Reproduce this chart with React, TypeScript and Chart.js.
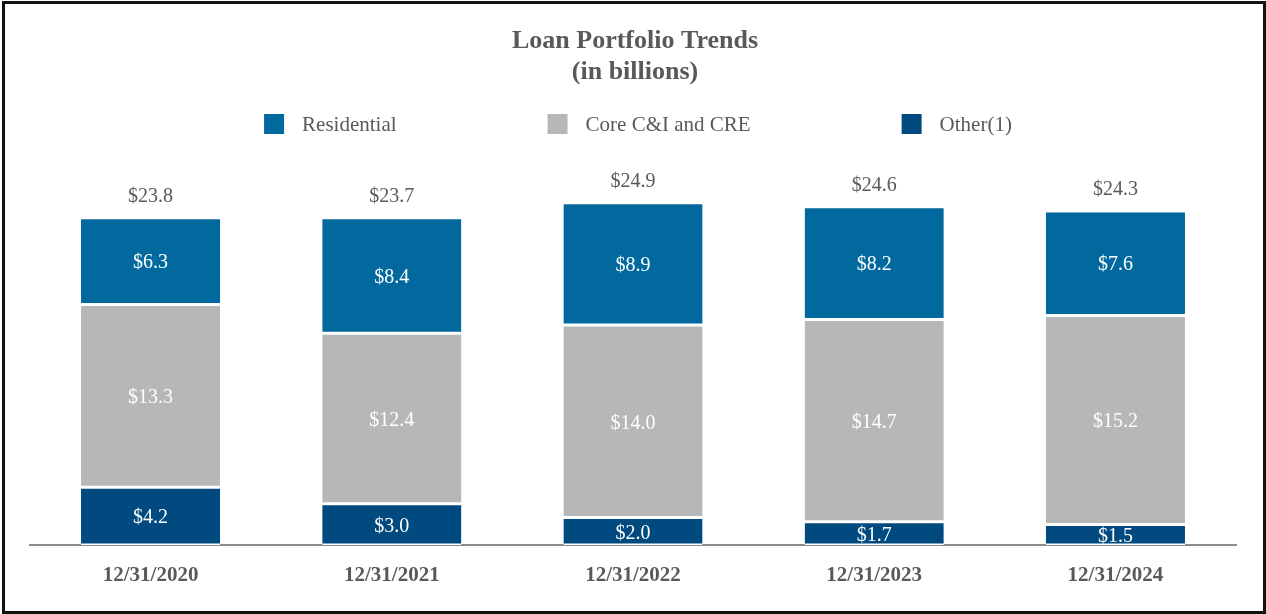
import { useEffect, useRef } from "react";
import { Chart, registerables } from "chart.js";

Chart.register(...registerables);

// Year-end balances, in billions of dollars
const categories = ["12/31/2020", "12/31/2021", "12/31/2022", "12/31/2023", "12/31/2024"];
const residential = [6.3, 8.4, 8.9, 8.2, 7.6];
const coreCiCre = [13.3, 12.4, 14.0, 14.7, 15.2];
const other = [4.2, 3.0, 2.0, 1.7, 1.5];
const totals = [23.8, 23.7, 24.9, 24.6, 24.3];

const titleLines = ["Loan Portfolio Trends", "(in billions)"];
const seriesNames = ["Residential", "Core C&I and CRE", "Other(1)"];
const seriesColors = ["#02699F", "#B7B7B7", "#004A80"];

const FONT = '"Liberation Serif", "Times New Roman", serif';
const TEXT_GREY = "#595959";

const money = (v: number) => `$${v.toFixed(1)}`;

// Segment values inside each bar, totals above each stack
const valueLabels = {
  id: "valueLabels",
  afterDatasetsDraw(chart: any) {
    const { ctx, chartArea } = chart;
    ctx.save();
    ctx.beginPath();
    ctx.rect(chartArea.left, chartArea.top, chartArea.right - chartArea.left, chartArea.bottom - chartArea.top);
    ctx.clip();
    ctx.textAlign = "center";
    ctx.textBaseline = "middle";
    ctx.font = `20px ${FONT}`;
    ctx.fillStyle = "#FFFFFF";
    chart.data.datasets.forEach((ds: any, di: number) => {
      const meta = chart.getDatasetMeta(di);
      meta.data.forEach((el: any, i: number) => {
        const { x, y, base } = el.getProps(["x", "y", "base"], true);
        ctx.fillText(money(ds.data[i]), x, (y + base) / 2 + 2);
      });
    });
    const topMeta = chart.getDatasetMeta(chart.data.datasets.length - 1);
    ctx.fillStyle = TEXT_GREY;
    topMeta.data.forEach((el: any, i: number) => {
      const { x, y } = el.getProps(["x", "y"], true);
      ctx.fillText(money(totals[i]), x, y - 21);
    });
    ctx.restore();
  },
};

// Title block and a single-row legend across the top
const header = {
  id: "header",
  afterDraw(chart: any) {
    const { ctx, width } = chart;
    const titleX = width / 2 + 2;
    ctx.save();
    ctx.textAlign = "center";
    ctx.textBaseline = "middle";
    ctx.fillStyle = TEXT_GREY;
    ctx.font = `bold 26px ${FONT}`;
    ctx.fillText(titleLines[0], titleX, 41);
    ctx.fillText(titleLines[1], titleX, 72);

    const box = 20;
    const gap = 18;
    const spacing = 151;
    ctx.font = `21px ${FONT}`;
    const items = [...chart.data.datasets].reverse().map((ds: any) => ({
      label: ds.label as string,
      color: ds.backgroundColor as string,
      w: box + gap + ctx.measureText(ds.label).width,
    }));
    const total = items.reduce((s, it) => s + it.w, 0) + spacing * (items.length - 1);
    let x = width / 2 + 5 - total / 2;
    const yMid = 124;
    ctx.textAlign = "left";
    items.forEach((it) => {
      ctx.fillStyle = it.color;
      ctx.fillRect(x, yMid - box / 2, box, box);
      ctx.fillStyle = TEXT_GREY;
      ctx.fillText(it.label, x + box + gap, yMid + 1);
      x += it.w + spacing;
    });
    ctx.restore();
  },
};

export default function App() {
  const canvasRef = useRef<HTMLCanvasElement | null>(null);

  useEffect(() => {
    if (!canvasRef.current) return;
    const segBorder = { top: 1.5, bottom: 1.5, left: 0, right: 0 };
    const chart = new Chart(canvasRef.current, {
      type: "bar",
      data: {
        labels: categories,
        datasets: [
          { label: seriesNames[2], data: other, backgroundColor: seriesColors[2] },
          { label: seriesNames[1], data: coreCiCre, backgroundColor: seriesColors[1] },
          { label: seriesNames[0], data: residential, backgroundColor: seriesColors[0] },
        ].map((d) => ({
          ...d,
          borderColor: "#FFFFFF",
          borderWidth: segBorder,
          borderSkipped: false,
          barPercentage: 0.577,
          categoryPercentage: 1,
        })),
      },
      options: {
        animation: false,
        responsive: true,
        maintainAspectRatio: false,
        layout: { padding: { top: 160, left: 30, right: 30, bottom: 0 } },
        plugins: {
          legend: { display: false },
          title: { display: false },
          tooltip: { enabled: false },
        },
        scales: {
          x: {
            stacked: true,
            z: 1,
            grid: { display: false, drawTicks: false },
            border: { display: true, color: "#8C8C8C", width: 2 },
            ticks: {
              color: TEXT_GREY,
              padding: 18,
              font: { family: FONT, size: 21, weight: "bold" },
            },
            afterFit: (scale: any) => {
              scale.height = 69;
            },
          },
          y: {
            stacked: true,
            display: false,
            min: 0,
            max: 28,
          },
        },
      },
      plugins: [valueLabels, header],
    });
    return () => chart.destroy();
  }, []);

  return (
    <div
      style={{
        position: "absolute",
        left: 0,
        top: 0,
        width: 1266,
        height: 614,
        background: "#FFFFFF",
      }}
    >
      <canvas ref={canvasRef} />
      <div
        style={{
          position: "absolute",
          left: 2,
          top: 1,
          width: 1264,
          height: 613,
          boxSizing: "border-box",
          border: "3px solid #111111",
          pointerEvents: "none",
        }}
      />
    </div>
  );
}
